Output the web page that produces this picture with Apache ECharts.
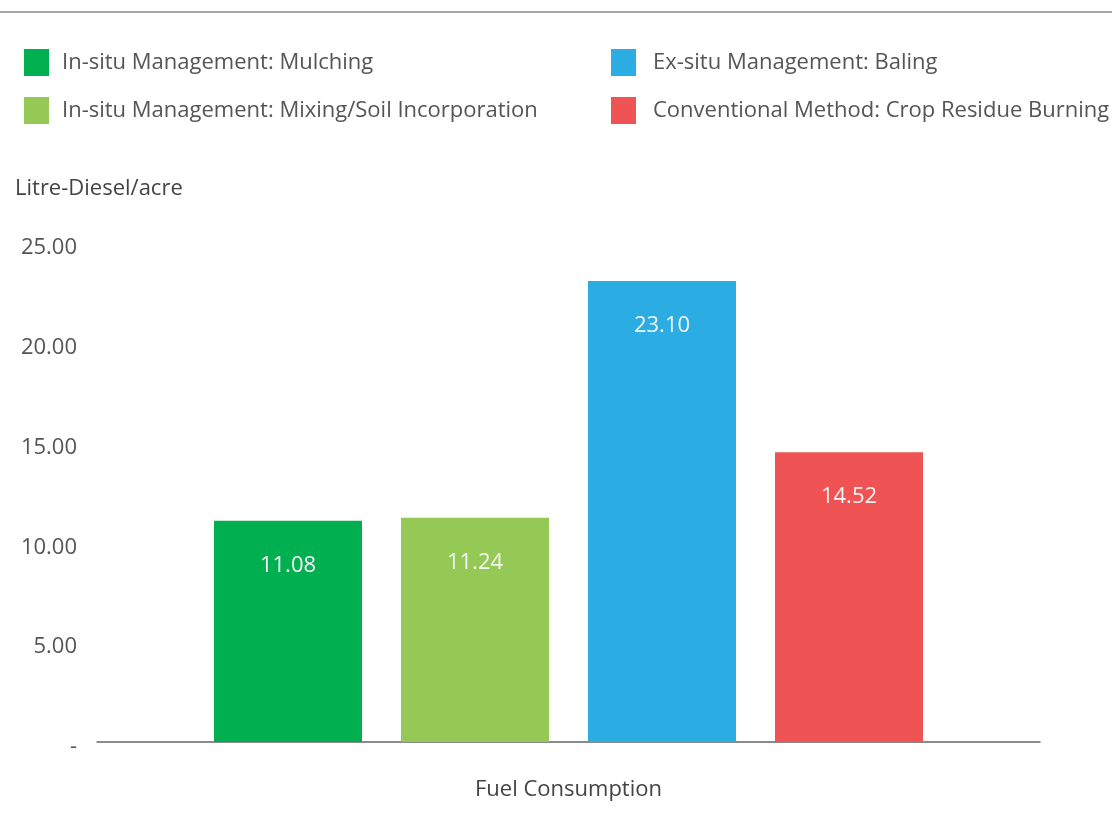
<!DOCTYPE html>
<html><head><meta charset="utf-8">
<script src="https://cdn.jsdelivr.net/npm/echarts@6/dist/echarts.min.js"></script>
<style>html,body{margin:0;padding:0;background:#fff}#c{width:1112px;height:840px}</style>
</head><body><div id="c"></div>
<script>
const categories = ['Fuel Consumption'];
const seriesNames = ['In-situ Management: Mulching','In-situ Management: Mixing/Soil Incorporation','Ex-situ Management: Baling','Conventional Method: Crop Residue Burning'];
const seriesValues = [[11.08],[11.24],[23.10],[14.52]];
const seriesColors = ['#00AF4F','#95C955','#2BACE2','#EF5353'];
const yAxisName = 'Litre-Diesel/acre';
const FONT = 'Open Sans';
const FS = 22;
const chart = echarts.init(document.getElementById('c'));
const legendPos = [{left:24,top:49},{left:24,top:97},{left:611,top:49},{left:611,top:97}];
chart.setOption({
  animation:false,
  textStyle:{fontFamily:FONT},
  graphic:[
    {type:'line',shape:{x1:0,y1:12,x2:1112,y2:12},style:{stroke:'#888',lineWidth:1.5}},
    {type:'text',left:15,top:178,style:{text:yAxisName,fontFamily:FONT,fontSize:FS,fill:'#444'}}
  ],
  legend: seriesNames.map((n,i)=>({data:[n],left:legendPos[i].left,top:legendPos[i].top,padding:0,icon:'rect',itemWidth:25,itemHeight:27,itemGap:12,
    textStyle:{fontFamily:FONT,fontSize:FS,color:'#555',padding:[2,0,0,i<2?8:12]},selectedMode:false})),
  grid:{left:97,right:72,top:243,bottom:98},
  xAxis:{type:'category',data:categories,axisTick:{show:false},axisLine:{lineStyle:{color:'#666',width:1.5}},axisLabel:{fontFamily:FONT,fontSize:FS,color:'#444',margin:37}},
  yAxis:{type:'value',min:0,max:25,interval:5,splitLine:{show:false},axisLine:{show:false},axisTick:{show:false},
    axisLabel:{fontFamily:FONT,fontSize:FS,color:'#555',margin:20,
      formatter:v=>'{v|'+(v===0?'-':v.toFixed(2))+'}',
      rich:{v:{fontFamily:FONT,fontSize:FS,color:'#555',padding:[10,0,0,0]}}}},
  series: seriesNames.map((n,i)=>({name:n,type:'bar',data:seriesValues[i],barWidth:148,barGap:'26.35%',itemStyle:{color:seriesColors[i]},
    label:{show:true,position:'insideTop',distance:34,fontFamily:FONT,fontSize:FS,color:'#f4f4f4',formatter:p=>p.value.toFixed(2)}}))
});
</script></body></html>
